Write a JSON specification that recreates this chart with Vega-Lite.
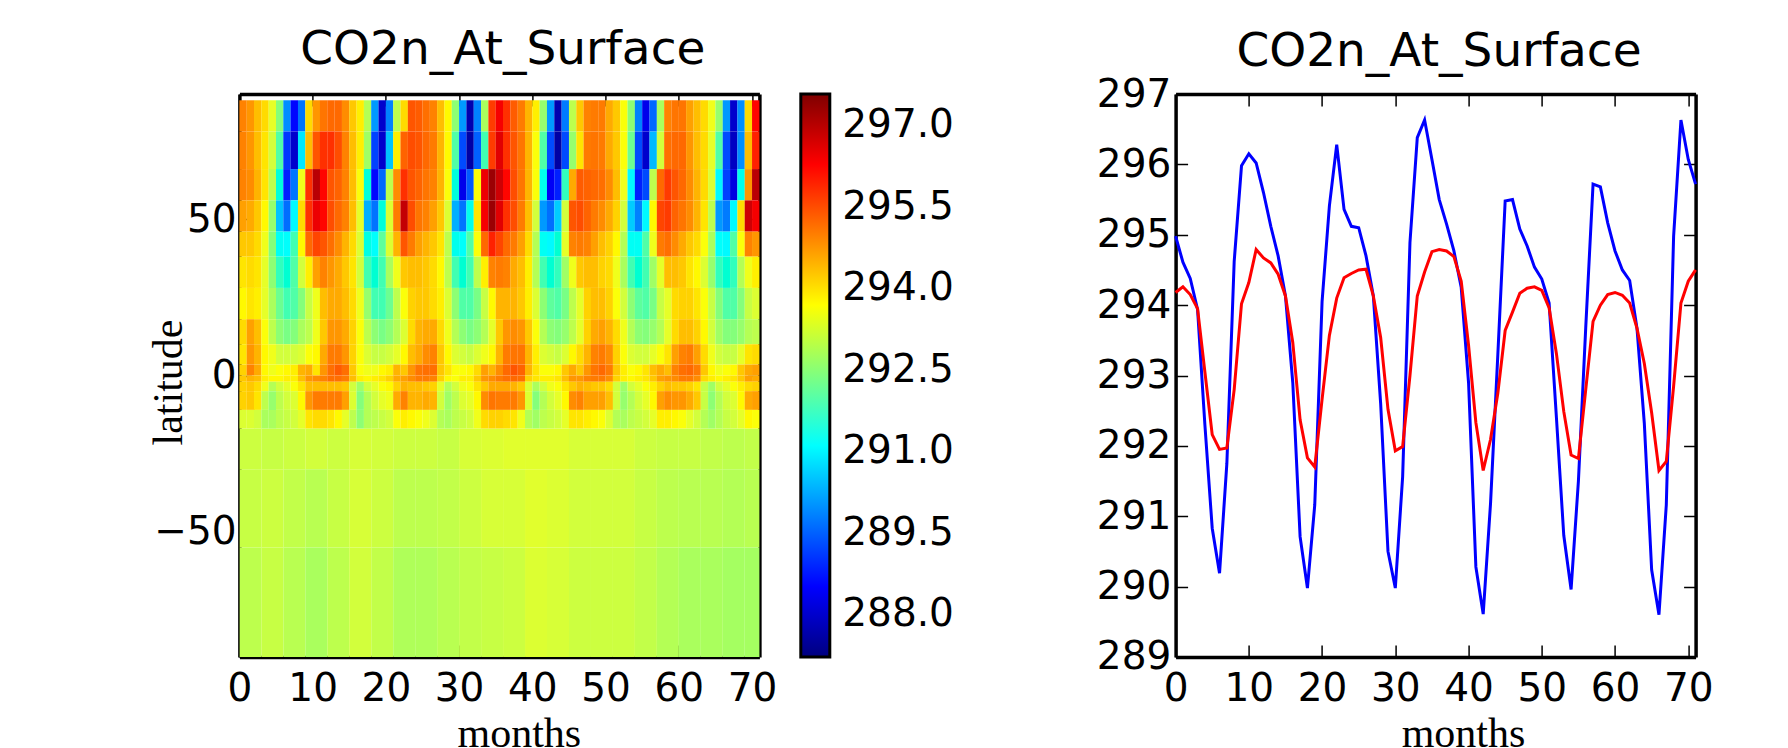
{"$schema":"https://vega.github.io/schema/vega-lite/v6.json","background":"white","padding":{"left":147.4,"top":26,"right":0,"bottom":0},"bounds":"flush","spacing":41.4,
"config":{"view":{"stroke":null},"title":{"font":"DejaVu Sans","fontSize":47,"fontWeight":"normal","color":"#000"},"axis":{"grid":false,"labelFont":"DejaVu Sans","labelFontSize":39,"labelColor":"#000","labelPadding":24.4,"labelOverlap":false,"labelFlush":false,"labelBound":false,"tickSize":-12,"tickWidth":1.5,"tickColor":"#000","domainColor":"#000","domainWidth":3.5,"titleFont":"Liberation Serif","titleFontSize":42,"titleFontWeight":"normal","titleColor":"#000","zindex":1}},
"hconcat":[
{"width":520,"height":563,"title":{"text":"CO2n_At_Surface","offset":19,"dx":3.4},
"encoding":{"x":{"field":"m","type":"quantitative","scale":{"domain":[0,71]},"axis":null},"color":{"field":"v","type":"quantitative","legend":null,"scale":{"domain":[287.2,288.4875,289.775,291.0625,292.35,293.6375,294.925,296.2125,297.5],"range":["#00007f","#0000ff","#007fff","#00ffff","#7fff7f","#ffff00","#ff7f00","#ff0000","#7f0000"]}}},
"layer":[
{"data":{"values":[{"m":0,"v":294.9},{"m":1,"v":294.7},{"m":2,"v":294.3},{"m":3,"v":294},{"m":4,"v":293.4},{"m":5,"v":292.4},{"m":6,"v":289.9},{"m":7,"v":288.5},{"m":8,"v":289.6},{"m":9,"v":294},{"m":10,"v":294.7},{"m":11,"v":295.1},{"m":12,"v":295.3},{"m":13,"v":295.3},{"m":14,"v":294.8},{"m":15,"v":294.2},{"m":16,"v":293.8},{"m":17,"v":292.9},{"m":18,"v":290},{"m":19,"v":288},{"m":20,"v":289.8},{"m":21,"v":293},{"m":22,"v":294},{"m":23,"v":295.6},{"m":24,"v":295.5},{"m":25,"v":295.2},{"m":26,"v":294.9},{"m":27,"v":294.3},{"m":28,"v":293.7},{"m":29,"v":292.5},{"m":30,"v":290},{"m":31,"v":287.7},{"m":32,"v":289.8},{"m":33,"v":292.8},{"m":34,"v":295.9},{"m":35,"v":296.3},{"m":36,"v":296},{"m":37,"v":295.5},{"m":38,"v":295},{"m":39,"v":294.4},{"m":40,"v":293.8},{"m":41,"v":292.6},{"m":42,"v":290},{"m":43,"v":287.7},{"m":44,"v":289.7},{"m":45,"v":293},{"m":46,"v":294.2},{"m":47,"v":294.9},{"m":48,"v":295},{"m":49,"v":295},{"m":50,"v":294.5},{"m":51,"v":294.2},{"m":52,"v":293.6},{"m":53,"v":292.5},{"m":54,"v":289.8},{"m":55,"v":288.3},{"m":56,"v":289.4},{"m":57,"v":292.8},{"m":58,"v":294.9},{"m":59,"v":295.1},{"m":60,"v":295.1},{"m":61,"v":294.6},{"m":62,"v":294.3},{"m":63,"v":294},{"m":64,"v":293.5},{"m":65,"v":292.6},{"m":66,"v":290},{"m":67,"v":288},{"m":68,"v":289.9},{"m":69,"v":294},{"m":70,"v":296.2}]},"mark":{"type":"rect","width":7.4,"xOffset":3.66},"encoding":{"y":{"datum":78,"type":"quantitative","scale":{"domain":[-90,90]},"axis":null},"y2":{"datum":88}}},
{"data":{"values":[{"m":0,"v":294.9},{"m":1,"v":294.7},{"m":2,"v":294.3},{"m":3,"v":293.9},{"m":4,"v":293.2},{"m":5,"v":292},{"m":6,"v":288.8},{"m":7,"v":288},{"m":8,"v":290.8},{"m":9,"v":294.3},{"m":10,"v":295.6},{"m":11,"v":296},{"m":12,"v":296},{"m":13,"v":295.7},{"m":14,"v":294.9},{"m":15,"v":294.3},{"m":16,"v":293.8},{"m":17,"v":292.7},{"m":18,"v":288.9},{"m":19,"v":288},{"m":20,"v":290.4},{"m":21,"v":293.8},{"m":22,"v":295.4},{"m":23,"v":295.7},{"m":24,"v":295.6},{"m":25,"v":295.3},{"m":26,"v":295},{"m":27,"v":294.4},{"m":28,"v":293.7},{"m":29,"v":292},{"m":30,"v":289},{"m":31,"v":287.6},{"m":32,"v":289.3},{"m":33,"v":291.9},{"m":34,"v":295.9},{"m":35,"v":296.5},{"m":36,"v":296},{"m":37,"v":295.6},{"m":38,"v":295.1},{"m":39,"v":294.4},{"m":40,"v":293.6},{"m":41,"v":292},{"m":42,"v":289},{"m":43,"v":287.6},{"m":44,"v":289},{"m":45,"v":292.6},{"m":46,"v":293.9},{"m":47,"v":295},{"m":48,"v":295.1},{"m":49,"v":295},{"m":50,"v":294.5},{"m":51,"v":294.2},{"m":52,"v":293.6},{"m":53,"v":292.2},{"m":54,"v":289},{"m":55,"v":288},{"m":56,"v":290.3},{"m":57,"v":293.2},{"m":58,"v":295.2},{"m":59,"v":295.3},{"m":60,"v":295.3},{"m":61,"v":294.7},{"m":62,"v":294.3},{"m":63,"v":294},{"m":64,"v":293.4},{"m":65,"v":292},{"m":66,"v":289},{"m":67,"v":287.9},{"m":68,"v":289.9},{"m":69,"v":294.3},{"m":70,"v":296.1}]},"mark":{"type":"rect","width":7.4,"xOffset":3.66},"encoding":{"y":{"datum":66,"type":"quantitative","scale":{"domain":[-90,90]},"axis":null},"y2":{"datum":78}}},
{"data":{"values":[{"m":0,"v":294.9},{"m":1,"v":294.8},{"m":2,"v":294.4},{"m":3,"v":293.9},{"m":4,"v":293},{"m":5,"v":291.5},{"m":6,"v":288.6},{"m":7,"v":289.6},{"m":8,"v":293.5},{"m":9,"v":296},{"m":10,"v":296.9},{"m":11,"v":296.2},{"m":12,"v":295.6},{"m":13,"v":295.4},{"m":14,"v":294.9},{"m":15,"v":294.3},{"m":16,"v":293.6},{"m":17,"v":291.5},{"m":18,"v":288.5},{"m":19,"v":289.4},{"m":20,"v":293},{"m":21,"v":294.8},{"m":22,"v":296},{"m":23,"v":295.6},{"m":24,"v":295.4},{"m":25,"v":295.1},{"m":26,"v":294.9},{"m":27,"v":294.4},{"m":28,"v":293.6},{"m":29,"v":291.5},{"m":30,"v":288.3},{"m":31,"v":289.2},{"m":32,"v":293.6},{"m":33,"v":296.4},{"m":34,"v":297.2},{"m":35,"v":296.7},{"m":36,"v":296.2},{"m":37,"v":295.7},{"m":38,"v":295.1},{"m":39,"v":294.4},{"m":40,"v":293.6},{"m":41,"v":291.3},{"m":42,"v":288.4},{"m":43,"v":288.6},{"m":44,"v":291.8},{"m":45,"v":294.5},{"m":46,"v":295.5},{"m":47,"v":295.4},{"m":48,"v":295.3},{"m":49,"v":295.2},{"m":50,"v":294.8},{"m":51,"v":294.3},{"m":52,"v":293.5},{"m":53,"v":291},{"m":54,"v":288.6},{"m":55,"v":289},{"m":56,"v":293},{"m":57,"v":295.3},{"m":58,"v":295.9},{"m":59,"v":295.6},{"m":60,"v":295.3},{"m":61,"v":294.8},{"m":62,"v":294.4},{"m":63,"v":294},{"m":64,"v":293.3},{"m":65,"v":291},{"m":66,"v":288.9},{"m":67,"v":288.2},{"m":68,"v":291.3},{"m":69,"v":294.7},{"m":70,"v":296.9}]},"mark":{"type":"rect","width":7.4,"xOffset":3.66},"encoding":{"y":{"datum":56,"type":"quantitative","scale":{"domain":[-90,90]},"axis":null},"y2":{"datum":66}}},
{"data":{"values":[{"m":0,"v":294.6},{"m":1,"v":294.5},{"m":2,"v":294.2},{"m":3,"v":293.7},{"m":4,"v":292.6},{"m":5,"v":290.4},{"m":6,"v":289.5},{"m":7,"v":291},{"m":8,"v":294},{"m":9,"v":296},{"m":10,"v":296.4},{"m":11,"v":296.2},{"m":12,"v":295.7},{"m":13,"v":295.3},{"m":14,"v":294.9},{"m":15,"v":294.3},{"m":16,"v":293.4},{"m":17,"v":290.2},{"m":18,"v":289.6},{"m":19,"v":291.5},{"m":20,"v":293.3},{"m":21,"v":295},{"m":22,"v":296.8},{"m":23,"v":295.7},{"m":24,"v":295.1},{"m":25,"v":294.9},{"m":26,"v":294.6},{"m":27,"v":294.2},{"m":28,"v":293.3},{"m":29,"v":290.2},{"m":30,"v":289.6},{"m":31,"v":291.3},{"m":32,"v":293.9},{"m":33,"v":296.3},{"m":34,"v":297.2},{"m":35,"v":296.5},{"m":36,"v":296},{"m":37,"v":295.7},{"m":38,"v":295},{"m":39,"v":294.3},{"m":40,"v":293.2},{"m":41,"v":290},{"m":42,"v":289.5},{"m":43,"v":290.5},{"m":44,"v":293.2},{"m":45,"v":295.6},{"m":46,"v":295.7},{"m":47,"v":295.4},{"m":48,"v":295},{"m":49,"v":294.8},{"m":50,"v":294.5},{"m":51,"v":294.1},{"m":52,"v":293.2},{"m":53,"v":290.5},{"m":54,"v":289.8},{"m":55,"v":291},{"m":56,"v":293.7},{"m":57,"v":295.8},{"m":58,"v":295.9},{"m":59,"v":295.4},{"m":60,"v":295.1},{"m":61,"v":294.8},{"m":62,"v":294.4},{"m":63,"v":293.9},{"m":64,"v":293},{"m":65,"v":290},{"m":66,"v":289.7},{"m":67,"v":291},{"m":68,"v":294},{"m":69,"v":296.7},{"m":70,"v":296.3}]},"mark":{"type":"rect","width":7.4,"xOffset":3.66},"encoding":{"y":{"datum":46,"type":"quantitative","scale":{"domain":[-90,90]},"axis":null},"y2":{"datum":56}}},
{"data":{"values":[{"m":0,"v":294.2},{"m":1,"v":294.2},{"m":2,"v":294},{"m":3,"v":293.5},{"m":4,"v":292.4},{"m":5,"v":291.2},{"m":6,"v":291.1},{"m":7,"v":291.9},{"m":8,"v":293.7},{"m":9,"v":295.3},{"m":10,"v":295.8},{"m":11,"v":295.6},{"m":12,"v":295.2},{"m":13,"v":294.8},{"m":14,"v":294.4},{"m":15,"v":294},{"m":16,"v":293.3},{"m":17,"v":291.4},{"m":18,"v":291.1},{"m":19,"v":292.1},{"m":20,"v":293.3},{"m":21,"v":294.4},{"m":22,"v":295.6},{"m":23,"v":295},{"m":24,"v":294.6},{"m":25,"v":294.4},{"m":26,"v":294.2},{"m":27,"v":293.9},{"m":28,"v":293},{"m":29,"v":291.3},{"m":30,"v":291.1},{"m":31,"v":292},{"m":32,"v":293.6},{"m":33,"v":295.3},{"m":34,"v":296.1},{"m":35,"v":295.8},{"m":36,"v":295.3},{"m":37,"v":295},{"m":38,"v":294.6},{"m":39,"v":294},{"m":40,"v":292.9},{"m":41,"v":291.2},{"m":42,"v":291},{"m":43,"v":291.6},{"m":44,"v":293.4},{"m":45,"v":294.9},{"m":46,"v":295},{"m":47,"v":294.9},{"m":48,"v":294.6},{"m":49,"v":294.3},{"m":50,"v":294.1},{"m":51,"v":293.7},{"m":52,"v":292.9},{"m":53,"v":291.2},{"m":54,"v":291.2},{"m":55,"v":292},{"m":56,"v":293.5},{"m":57,"v":295},{"m":58,"v":295.2},{"m":59,"v":294.8},{"m":60,"v":294.5},{"m":61,"v":294.2},{"m":62,"v":294},{"m":63,"v":293.6},{"m":64,"v":292.8},{"m":65,"v":291.1},{"m":66,"v":291},{"m":67,"v":292},{"m":68,"v":293.6},{"m":69,"v":294.9},{"m":70,"v":294.7}]},"mark":{"type":"rect","width":7.4,"xOffset":3.66},"encoding":{"y":{"datum":38,"type":"quantitative","scale":{"domain":[-90,90]},"axis":null},"y2":{"datum":46}}},
{"data":{"values":[{"m":0,"v":293.9},{"m":1,"v":294},{"m":2,"v":293.9},{"m":3,"v":293.4},{"m":4,"v":292.5},{"m":5,"v":291.8},{"m":6,"v":291.6},{"m":7,"v":292},{"m":8,"v":293.2},{"m":9,"v":293.8},{"m":10,"v":294.6},{"m":11,"v":294.9},{"m":12,"v":294.7},{"m":13,"v":294.5},{"m":14,"v":294.2},{"m":15,"v":293.9},{"m":16,"v":293.2},{"m":17,"v":291.9},{"m":18,"v":291.6},{"m":19,"v":291.9},{"m":20,"v":292.8},{"m":21,"v":293.5},{"m":22,"v":294.2},{"m":23,"v":294.3},{"m":24,"v":294.3},{"m":25,"v":294.2},{"m":26,"v":294},{"m":27,"v":293.7},{"m":28,"v":293},{"m":29,"v":291.9},{"m":30,"v":291.6},{"m":31,"v":291.9},{"m":32,"v":293},{"m":33,"v":293.8},{"m":34,"v":294.9},{"m":35,"v":295},{"m":36,"v":294.9},{"m":37,"v":294.5},{"m":38,"v":294.3},{"m":39,"v":293.8},{"m":40,"v":292.9},{"m":41,"v":291.9},{"m":42,"v":291.6},{"m":43,"v":291.8},{"m":44,"v":292.7},{"m":45,"v":293.5},{"m":46,"v":294.2},{"m":47,"v":294.3},{"m":48,"v":294.3},{"m":49,"v":294.1},{"m":50,"v":294},{"m":51,"v":293.5},{"m":52,"v":292.8},{"m":53,"v":291.9},{"m":54,"v":291.6},{"m":55,"v":291.9},{"m":56,"v":292.7},{"m":57,"v":293.4},{"m":58,"v":294.3},{"m":59,"v":294.3},{"m":60,"v":294.2},{"m":61,"v":293.9},{"m":62,"v":293.7},{"m":63,"v":293.3},{"m":64,"v":292.6},{"m":65,"v":291.8},{"m":66,"v":291.6},{"m":67,"v":291.8},{"m":68,"v":292.9},{"m":69,"v":293.5},{"m":70,"v":293.8}]},"mark":{"type":"rect","width":7.4,"xOffset":3.66},"encoding":{"y":{"datum":28,"type":"quantitative","scale":{"domain":[-90,90]},"axis":null},"y2":{"datum":38}}},
{"data":{"values":[{"m":0,"v":293.7},{"m":1,"v":293.9},{"m":2,"v":293.8},{"m":3,"v":293.4},{"m":4,"v":292.8},{"m":5,"v":292.2},{"m":6,"v":291.9},{"m":7,"v":292},{"m":8,"v":292.4},{"m":9,"v":293.1},{"m":10,"v":293.5},{"m":11,"v":294.3},{"m":12,"v":294.5},{"m":13,"v":294.5},{"m":14,"v":294.3},{"m":15,"v":294},{"m":16,"v":293.5},{"m":17,"v":292.6},{"m":18,"v":291.9},{"m":19,"v":291.9},{"m":20,"v":292.2},{"m":21,"v":293},{"m":22,"v":293.6},{"m":23,"v":294.1},{"m":24,"v":294.2},{"m":25,"v":294.2},{"m":26,"v":294},{"m":27,"v":293.8},{"m":28,"v":293.3},{"m":29,"v":292.5},{"m":30,"v":292},{"m":31,"v":292},{"m":32,"v":292.3},{"m":33,"v":293.1},{"m":34,"v":293.7},{"m":35,"v":294.4},{"m":36,"v":294.4},{"m":37,"v":294.4},{"m":38,"v":294.2},{"m":39,"v":293.8},{"m":40,"v":293.3},{"m":41,"v":292.5},{"m":42,"v":292.1},{"m":43,"v":292},{"m":44,"v":292.3},{"m":45,"v":293},{"m":46,"v":293.4},{"m":47,"v":294.1},{"m":48,"v":294.3},{"m":49,"v":294.3},{"m":50,"v":294.1},{"m":51,"v":293.6},{"m":52,"v":293.2},{"m":53,"v":292.5},{"m":54,"v":292.1},{"m":55,"v":292},{"m":56,"v":292.3},{"m":57,"v":293.1},{"m":58,"v":293.4},{"m":59,"v":294},{"m":60,"v":294.1},{"m":61,"v":294.1},{"m":62,"v":293.9},{"m":63,"v":293.6},{"m":64,"v":293.1},{"m":65,"v":292.4},{"m":66,"v":292},{"m":67,"v":292},{"m":68,"v":292.4},{"m":69,"v":293.1},{"m":70,"v":293.3}]},"mark":{"type":"rect","width":7.4,"xOffset":3.66},"encoding":{"y":{"datum":18,"type":"quantitative","scale":{"domain":[-90,90]},"axis":null},"y2":{"datum":28}}},
{"data":{"values":[{"m":0,"v":294},{"m":1,"v":294.6},{"m":2,"v":294.3},{"m":3,"v":293.6},{"m":4,"v":293},{"m":5,"v":292.5},{"m":6,"v":292.3},{"m":7,"v":292.4},{"m":8,"v":292.8},{"m":9,"v":293},{"m":10,"v":293.5},{"m":11,"v":294.2},{"m":12,"v":294.7},{"m":13,"v":294.7},{"m":14,"v":294.5},{"m":15,"v":294.1},{"m":16,"v":293.6},{"m":17,"v":293},{"m":18,"v":292.5},{"m":19,"v":292.3},{"m":20,"v":292.5},{"m":21,"v":292.9},{"m":22,"v":293.3},{"m":23,"v":294},{"m":24,"v":294.4},{"m":25,"v":294.5},{"m":26,"v":294.5},{"m":27,"v":294},{"m":28,"v":293.5},{"m":29,"v":292.9},{"m":30,"v":292.5},{"m":31,"v":292.3},{"m":32,"v":292.5},{"m":33,"v":292.9},{"m":34,"v":293.4},{"m":35,"v":294.2},{"m":36,"v":294.7},{"m":37,"v":294.8},{"m":38,"v":294.7},{"m":39,"v":294.2},{"m":40,"v":293.6},{"m":41,"v":292.9},{"m":42,"v":292.5},{"m":43,"v":292.4},{"m":44,"v":292.6},{"m":45,"v":293},{"m":46,"v":293.4},{"m":47,"v":294.1},{"m":48,"v":294.5},{"m":49,"v":294.6},{"m":50,"v":294.4},{"m":51,"v":294},{"m":52,"v":293.5},{"m":53,"v":292.9},{"m":54,"v":292.5},{"m":55,"v":292.4},{"m":56,"v":292.6},{"m":57,"v":292.9},{"m":58,"v":293.4},{"m":59,"v":294},{"m":60,"v":294.3},{"m":61,"v":294.3},{"m":62,"v":294.1},{"m":63,"v":293.7},{"m":64,"v":293.2},{"m":65,"v":292.7},{"m":66,"v":292.4},{"m":67,"v":292.4},{"m":68,"v":292.6},{"m":69,"v":292.9},{"m":70,"v":293}]},"mark":{"type":"rect","width":7.4,"xOffset":3.66},"encoding":{"y":{"datum":10,"type":"quantitative","scale":{"domain":[-90,90]},"axis":null},"y2":{"datum":18}}},
{"data":{"values":[{"m":0,"v":293.9},{"m":1,"v":294.7},{"m":2,"v":294.4},{"m":3,"v":293.7},{"m":4,"v":293.5},{"m":5,"v":293.2},{"m":6,"v":293.2},{"m":7,"v":293.2},{"m":8,"v":293.3},{"m":9,"v":293.6},{"m":10,"v":293.7},{"m":11,"v":294.5},{"m":12,"v":295},{"m":13,"v":295},{"m":14,"v":294.7},{"m":15,"v":294.1},{"m":16,"v":293.6},{"m":17,"v":293.3},{"m":18,"v":293.1},{"m":19,"v":293.1},{"m":20,"v":293.2},{"m":21,"v":293.4},{"m":22,"v":293.7},{"m":23,"v":294.3},{"m":24,"v":294.5},{"m":25,"v":294.8},{"m":26,"v":294.9},{"m":27,"v":294.2},{"m":28,"v":293.7},{"m":29,"v":293.3},{"m":30,"v":293.2},{"m":31,"v":293.1},{"m":32,"v":293.3},{"m":33,"v":293.5},{"m":34,"v":293.7},{"m":35,"v":294.4},{"m":36,"v":295},{"m":37,"v":295.1},{"m":38,"v":295.1},{"m":39,"v":294.4},{"m":40,"v":293.8},{"m":41,"v":293.3},{"m":42,"v":293.2},{"m":43,"v":293.1},{"m":44,"v":293.3},{"m":45,"v":293.7},{"m":46,"v":294},{"m":47,"v":294.4},{"m":48,"v":294.9},{"m":49,"v":295},{"m":50,"v":294.8},{"m":51,"v":294.1},{"m":52,"v":293.6},{"m":53,"v":293.3},{"m":54,"v":293.2},{"m":55,"v":293.2},{"m":56,"v":293.4},{"m":57,"v":293.6},{"m":58,"v":293.9},{"m":59,"v":294.6},{"m":60,"v":294.9},{"m":61,"v":295},{"m":62,"v":294.6},{"m":63,"v":294},{"m":64,"v":293.5},{"m":65,"v":293.2},{"m":66,"v":293.1},{"m":67,"v":293.1},{"m":68,"v":293.4},{"m":69,"v":293.9},{"m":70,"v":294}]},"mark":{"type":"rect","width":7.4,"xOffset":3.66},"encoding":{"y":{"datum":3.5,"type":"quantitative","scale":{"domain":[-90,90]},"axis":null},"y2":{"datum":10}}},
{"data":{"values":[{"m":0,"v":294.1},{"m":1,"v":294.9},{"m":2,"v":294.5},{"m":3,"v":293.7},{"m":4,"v":293.5},{"m":5,"v":293.6},{"m":6,"v":293.7},{"m":7,"v":293.8},{"m":8,"v":294.4},{"m":9,"v":294.5},{"m":10,"v":293.9},{"m":11,"v":294.7},{"m":12,"v":295.2},{"m":13,"v":295.5},{"m":14,"v":295.2},{"m":15,"v":294.2},{"m":16,"v":293.6},{"m":17,"v":293.5},{"m":18,"v":293.5},{"m":19,"v":293.7},{"m":20,"v":293.8},{"m":21,"v":294.4},{"m":22,"v":294.2},{"m":23,"v":294.7},{"m":24,"v":295.1},{"m":25,"v":295.2},{"m":26,"v":295.2},{"m":27,"v":294.2},{"m":28,"v":293.9},{"m":29,"v":293.6},{"m":30,"v":293.6},{"m":31,"v":293.7},{"m":32,"v":294},{"m":33,"v":294.6},{"m":34,"v":294.4},{"m":35,"v":294.8},{"m":36,"v":295.3},{"m":37,"v":295.6},{"m":38,"v":295.4},{"m":39,"v":294.4},{"m":40,"v":293.9},{"m":41,"v":293.6},{"m":42,"v":293.6},{"m":43,"v":293.7},{"m":44,"v":294.2},{"m":45,"v":294.5},{"m":46,"v":294.2},{"m":47,"v":294.7},{"m":48,"v":295.1},{"m":49,"v":295.3},{"m":50,"v":295},{"m":51,"v":294.2},{"m":52,"v":293.8},{"m":53,"v":293.6},{"m":54,"v":293.7},{"m":55,"v":293.9},{"m":56,"v":294.3},{"m":57,"v":294.5},{"m":58,"v":294.3},{"m":59,"v":294.9},{"m":60,"v":295.2},{"m":61,"v":295.3},{"m":62,"v":295},{"m":63,"v":294.2},{"m":64,"v":293.7},{"m":65,"v":293.5},{"m":66,"v":293.6},{"m":67,"v":293.7},{"m":68,"v":294.2},{"m":69,"v":294.5},{"m":70,"v":294.6}]},"mark":{"type":"rect","width":7.4,"xOffset":3.66},"encoding":{"y":{"datum":0,"type":"quantitative","scale":{"domain":[-90,90]},"axis":null},"y2":{"datum":3.5}}},
{"data":{"values":[{"m":0,"v":294.2},{"m":1,"v":294.4},{"m":2,"v":294.3},{"m":3,"v":293.8},{"m":4,"v":293.7},{"m":5,"v":293.7},{"m":6,"v":293.8},{"m":7,"v":293.8},{"m":8,"v":294.3},{"m":9,"v":294.7},{"m":10,"v":294.8},{"m":11,"v":294.9},{"m":12,"v":295.2},{"m":13,"v":295.2},{"m":14,"v":295},{"m":15,"v":294.3},{"m":16,"v":293.8},{"m":17,"v":293.7},{"m":18,"v":293.8},{"m":19,"v":293.9},{"m":20,"v":294.1},{"m":21,"v":294.5},{"m":22,"v":294.6},{"m":23,"v":294.8},{"m":24,"v":295},{"m":25,"v":295},{"m":26,"v":294.9},{"m":27,"v":294.1},{"m":28,"v":293.7},{"m":29,"v":293.6},{"m":30,"v":293.8},{"m":31,"v":293.8},{"m":32,"v":294.2},{"m":33,"v":294.7},{"m":34,"v":294.8},{"m":35,"v":295},{"m":36,"v":295.2},{"m":37,"v":295.3},{"m":38,"v":295.2},{"m":39,"v":294.1},{"m":40,"v":293.9},{"m":41,"v":293.8},{"m":42,"v":293.8},{"m":43,"v":293.9},{"m":44,"v":294.3},{"m":45,"v":294.7},{"m":46,"v":294.7},{"m":47,"v":294.9},{"m":48,"v":295},{"m":49,"v":295},{"m":50,"v":294.8},{"m":51,"v":294.1},{"m":52,"v":293.8},{"m":53,"v":293.7},{"m":54,"v":293.8},{"m":55,"v":293.9},{"m":56,"v":294.2},{"m":57,"v":294.6},{"m":58,"v":294.7},{"m":59,"v":294.8},{"m":60,"v":295},{"m":61,"v":295},{"m":62,"v":294.8},{"m":63,"v":294},{"m":64,"v":293.8},{"m":65,"v":293.7},{"m":66,"v":293.8},{"m":67,"v":293.9},{"m":68,"v":294.2},{"m":69,"v":294.6},{"m":70,"v":294.5}]},"mark":{"type":"rect","width":7.4,"xOffset":3.66},"encoding":{"y":{"datum":-2,"type":"quantitative","scale":{"domain":[-90,90]},"axis":null},"y2":{"datum":0}}},
{"data":{"values":[{"m":0,"v":294.1},{"m":1,"v":294.2},{"m":2,"v":294},{"m":3,"v":293.5},{"m":4,"v":292.9},{"m":5,"v":293.2},{"m":6,"v":293.4},{"m":7,"v":293.6},{"m":8,"v":293.9},{"m":9,"v":294.3},{"m":10,"v":294.3},{"m":11,"v":294.3},{"m":12,"v":294.3},{"m":13,"v":294.3},{"m":14,"v":294.2},{"m":15,"v":293.2},{"m":16,"v":292.7},{"m":17,"v":293.2},{"m":18,"v":293.4},{"m":19,"v":293.6},{"m":20,"v":293.7},{"m":21,"v":294.1},{"m":22,"v":294.4},{"m":23,"v":294.3},{"m":24,"v":294.3},{"m":25,"v":294.2},{"m":26,"v":294.1},{"m":27,"v":293.4},{"m":28,"v":292.9},{"m":29,"v":293.2},{"m":30,"v":293.5},{"m":31,"v":293.6},{"m":32,"v":293.9},{"m":33,"v":294.2},{"m":34,"v":294.5},{"m":35,"v":294.5},{"m":36,"v":294.5},{"m":37,"v":294.4},{"m":38,"v":294.2},{"m":39,"v":293.3},{"m":40,"v":292.8},{"m":41,"v":293.2},{"m":42,"v":293.5},{"m":43,"v":293.6},{"m":44,"v":293.9},{"m":45,"v":294.2},{"m":46,"v":294.4},{"m":47,"v":294.3},{"m":48,"v":294.2},{"m":49,"v":294.2},{"m":50,"v":294},{"m":51,"v":293.2},{"m":52,"v":292.7},{"m":53,"v":293.2},{"m":54,"v":293.4},{"m":55,"v":293.6},{"m":56,"v":293.8},{"m":57,"v":294.1},{"m":58,"v":294.3},{"m":59,"v":294.2},{"m":60,"v":294.2},{"m":61,"v":294.1},{"m":62,"v":293.9},{"m":63,"v":293.1},{"m":64,"v":292.7},{"m":65,"v":293.2},{"m":66,"v":293.4},{"m":67,"v":293.6},{"m":68,"v":293.8},{"m":69,"v":294},{"m":70,"v":294.1}]},"mark":{"type":"rect","width":7.4,"xOffset":3.66},"encoding":{"y":{"datum":-5,"type":"quantitative","scale":{"domain":[-90,90]},"axis":null},"y2":{"datum":-2}}},
{"data":{"values":[{"m":0,"v":294.1},{"m":1,"v":294.2},{"m":2,"v":293.9},{"m":3,"v":293},{"m":4,"v":292.6},{"m":5,"v":293},{"m":6,"v":293.2},{"m":7,"v":293.3},{"m":8,"v":293.7},{"m":9,"v":294.7},{"m":10,"v":295},{"m":11,"v":295},{"m":12,"v":295},{"m":13,"v":295},{"m":14,"v":294.6},{"m":15,"v":293.3},{"m":16,"v":292.4},{"m":17,"v":292.9},{"m":18,"v":293.2},{"m":19,"v":293.4},{"m":20,"v":293.5},{"m":21,"v":294.5},{"m":22,"v":294.9},{"m":23,"v":294.4},{"m":24,"v":294.4},{"m":25,"v":294.5},{"m":26,"v":294.4},{"m":27,"v":293.2},{"m":28,"v":292.7},{"m":29,"v":293},{"m":30,"v":293.3},{"m":31,"v":293.4},{"m":32,"v":293.7},{"m":33,"v":294.8},{"m":34,"v":295.1},{"m":35,"v":295},{"m":36,"v":295},{"m":37,"v":295},{"m":38,"v":294.7},{"m":39,"v":293.3},{"m":40,"v":292.4},{"m":41,"v":292.9},{"m":42,"v":293.2},{"m":43,"v":293.4},{"m":44,"v":293.7},{"m":45,"v":294.8},{"m":46,"v":294.9},{"m":47,"v":294.6},{"m":48,"v":294.6},{"m":49,"v":294.6},{"m":50,"v":294.3},{"m":51,"v":293.2},{"m":52,"v":292.6},{"m":53,"v":292.9},{"m":54,"v":293.2},{"m":55,"v":293.4},{"m":56,"v":293.7},{"m":57,"v":294.6},{"m":58,"v":294.8},{"m":59,"v":294.7},{"m":60,"v":294.7},{"m":61,"v":294.5},{"m":62,"v":294.2},{"m":63,"v":293.1},{"m":64,"v":292.5},{"m":65,"v":292.9},{"m":66,"v":293.2},{"m":67,"v":293.3},{"m":68,"v":293.7},{"m":69,"v":294.5},{"m":70,"v":294.6}]},"mark":{"type":"rect","width":7.4,"xOffset":3.66},"encoding":{"y":{"datum":-11,"type":"quantitative","scale":{"domain":[-90,90]},"axis":null},"y2":{"datum":-5}}},
{"data":{"values":[{"m":0,"v":293.3},{"m":1,"v":293.3},{"m":2,"v":293.2},{"m":3,"v":292.8},{"m":4,"v":292.8},{"m":5,"v":293},{"m":6,"v":293.1},{"m":7,"v":293.2},{"m":8,"v":293.4},{"m":9,"v":293.9},{"m":10,"v":294},{"m":11,"v":294},{"m":12,"v":293.9},{"m":13,"v":293.7},{"m":14,"v":293.4},{"m":15,"v":293},{"m":16,"v":292.5},{"m":17,"v":292.9},{"m":18,"v":293},{"m":19,"v":293.1},{"m":20,"v":293.2},{"m":21,"v":293.6},{"m":22,"v":293.8},{"m":23,"v":293.7},{"m":24,"v":293.6},{"m":25,"v":293.5},{"m":26,"v":293.3},{"m":27,"v":292.9},{"m":28,"v":292.8},{"m":29,"v":293},{"m":30,"v":293.1},{"m":31,"v":293.2},{"m":32,"v":293.5},{"m":33,"v":294},{"m":34,"v":294.1},{"m":35,"v":294.1},{"m":36,"v":294},{"m":37,"v":293.9},{"m":38,"v":293.5},{"m":39,"v":292.9},{"m":40,"v":292.7},{"m":41,"v":293},{"m":42,"v":293.1},{"m":43,"v":293.2},{"m":44,"v":293.4},{"m":45,"v":293.9},{"m":46,"v":293.9},{"m":47,"v":293.8},{"m":48,"v":293.7},{"m":49,"v":293.6},{"m":50,"v":293.3},{"m":51,"v":292.9},{"m":52,"v":292.8},{"m":53,"v":293},{"m":54,"v":293.1},{"m":55,"v":293.2},{"m":56,"v":293.4},{"m":57,"v":293.8},{"m":58,"v":293.8},{"m":59,"v":293.7},{"m":60,"v":293.6},{"m":61,"v":293.4},{"m":62,"v":293.2},{"m":63,"v":292.9},{"m":64,"v":292.7},{"m":65,"v":292.9},{"m":66,"v":293.1},{"m":67,"v":293.2},{"m":68,"v":293.4},{"m":69,"v":293.7},{"m":70,"v":293.6}]},"mark":{"type":"rect","width":7.4,"xOffset":3.66},"encoding":{"y":{"datum":-17,"type":"quantitative","scale":{"domain":[-90,90]},"axis":null},"y2":{"datum":-11}}},
{"data":{"values":[{"m":0,"v":293.15},{"m":3,"v":293.1},{"m":6,"v":293.15},{"m":9,"v":293.2},{"m":12,"v":293.15},{"m":15,"v":293.25},{"m":18,"v":293.2},{"m":21,"v":293.15},{"m":24,"v":293.15},{"m":27,"v":293.1},{"m":30,"v":293.25},{"m":33,"v":293.3},{"m":36,"v":293.35},{"m":39,"v":293.35},{"m":42,"v":293.35},{"m":45,"v":293.25},{"m":48,"v":293.25},{"m":51,"v":293.25},{"m":54,"v":293.15},{"m":57,"v":293.1},{"m":60,"v":293.1},{"m":63,"v":293.05},{"m":66,"v":293},{"m":69,"v":293.05}]},"mark":{"type":"rect","width":22,"xOffset":11,"clip":true},"encoding":{"y":{"datum":-30,"type":"quantitative","scale":{"domain":[-90,90]},"axis":null},"y2":{"datum":-17}}},
{"data":{"values":[{"m":0,"v":293.1},{"m":3,"v":293.15},{"m":6,"v":293.05},{"m":9,"v":292.95},{"m":12,"v":293.1},{"m":15,"v":293.25},{"m":18,"v":293.15},{"m":21,"v":293},{"m":24,"v":293},{"m":27,"v":293.05},{"m":30,"v":293.15},{"m":33,"v":293.25},{"m":36,"v":293.25},{"m":39,"v":293.35},{"m":42,"v":293.3},{"m":45,"v":293.2},{"m":48,"v":293.2},{"m":51,"v":293.2},{"m":54,"v":293.1},{"m":57,"v":293},{"m":60,"v":292.95},{"m":63,"v":292.95},{"m":66,"v":292.9},{"m":69,"v":292.95}]},"mark":{"type":"rect","width":22,"xOffset":11,"clip":true},"encoding":{"y":{"datum":-55,"type":"quantitative","scale":{"domain":[-90,90]},"axis":null},"y2":{"datum":-30}}},
{"data":{"values":[{"m":0,"v":293},{"m":3,"v":293.1},{"m":6,"v":292.95},{"m":9,"v":292.8},{"m":12,"v":293},{"m":15,"v":293.2},{"m":18,"v":293.05},{"m":21,"v":292.85},{"m":24,"v":292.85},{"m":27,"v":292.95},{"m":30,"v":293.05},{"m":33,"v":293.1},{"m":36,"v":293.15},{"m":39,"v":293.3},{"m":42,"v":293.25},{"m":45,"v":293.15},{"m":48,"v":293.15},{"m":51,"v":293.15},{"m":54,"v":293.05},{"m":57,"v":292.9},{"m":60,"v":292.8},{"m":63,"v":292.8},{"m":66,"v":292.75},{"m":69,"v":292.75}]},"mark":{"type":"rect","width":22,"xOffset":11,"clip":true},"encoding":{"y":{"datum":-90,"type":"quantitative","scale":{"domain":[-90,90]},"axis":null},"y2":{"datum":-55}}},
{"data":{"values":[{"m":0,"v":293.1}]},"mark":{"type":"point","opacity":0},"encoding":{"y":{"datum":0,"type":"quantitative","scale":{"domain":[-90,90]},"axis":{"orient":"left","values":[-50,0,50],"format":"d","title":"latitude","titleX":-48.8,"titleY":288,"labelPadding":15.3}},"x":{"field":"m","type":"quantitative","scale":{"domain":[0,71]},"axis":{"orient":"bottom","values":[0,10,20,30,40,50,60,70],"format":"d","title":"months","titlePadding":5,"titleX":279.4}}}},
{"data":{"values":[{"m":0,"v":293.1}]},"mark":{"type":"point","opacity":0},"encoding":{"y":{"datum":0,"type":"quantitative","scale":{"domain":[-90,90]},"axis":{"orient":"right","values":[-50,0,50],"labels":false,"title":null}},"x":{"field":"m","type":"quantitative","scale":{"domain":[0,71]},"axis":{"orient":"top","values":[0,10,20,30,40,50,60,70],"labels":false,"title":null}}}}
],"resolve":{"axis":{"x":"independent","y":"independent"}}},
{"width":29,"height":563,"data":{"values":[{"lo":287.2,"hi":297.57}]},"mark":{"type":"rect","stroke":"#000","strokeWidth":3,"color":{"gradient":"linear","x1":0,"y1":1,"x2":0,"y2":0,"stops":[{"offset":0,"color":"#00007f"},{"offset":0.125,"color":"#0000ff"},{"offset":0.25,"color":"#007fff"},{"offset":0.375,"color":"#00ffff"},{"offset":0.5,"color":"#7fff7f"},{"offset":0.625,"color":"#ffff00"},{"offset":0.75,"color":"#ff7f00"},{"offset":0.875,"color":"#ff0000"},{"offset":1,"color":"#7f0000"}]}},"encoding":{"y":{"field":"lo","type":"quantitative","scale":{"domain":[287.2,297.57]},"axis":{"orient":"right","values":[288,289.5,291,292.5,294,295.5,297],"format":".1f","title":null,"domain":false,"labelPadding":24}},"y2":{"field":"hi"}}},
{"width":262.5,"height":563,"data":{"values":[{"m":0}]},"mark":{"type":"point","opacity":0},"encoding":{}},
{"width":520,"height":563,"title":{"text":"CO2n_At_Surface","offset":-1,"dx":3.4},"data":{"values":[{"m":0,"b":294.98,"r":294.18},{"m":1,"b":294.61,"r":294.26},{"m":2,"b":294.38,"r":294.15},{"m":3,"b":293.94,"r":293.95},{"m":4,"b":292.3,"r":293.05},{"m":5,"b":290.83,"r":292.16},{"m":6,"b":290.19,"r":291.95},{"m":7,"b":291.75,"r":291.97},{"m":8,"b":294.62,"r":292.8},{"m":9,"b":295.98,"r":294.02},{"m":10,"b":296.15,"r":294.32},{"m":11,"b":296.02,"r":294.79},{"m":12,"b":295.6,"r":294.67},{"m":13,"b":295.12,"r":294.6},{"m":14,"b":294.7,"r":294.44},{"m":15,"b":294.13,"r":294.13},{"m":16,"b":292.9,"r":293.47},{"m":17,"b":290.71,"r":292.37},{"m":18,"b":289.98,"r":291.83},{"m":19,"b":291.16,"r":291.7},{"m":20,"b":294.05,"r":292.66},{"m":21,"b":295.41,"r":293.57},{"m":22,"b":296.28,"r":294.1},{"m":23,"b":295.36,"r":294.39},{"m":24,"b":295.12,"r":294.45},{"m":25,"b":295.1,"r":294.5},{"m":26,"b":294.7,"r":294.51},{"m":27,"b":294.13,"r":294.13},{"m":28,"b":292.6,"r":293.54},{"m":29,"b":290.5,"r":292.52},{"m":30,"b":289.98,"r":291.93},{"m":31,"b":291.56,"r":291.99},{"m":32,"b":294.89,"r":293.0},{"m":33,"b":296.38,"r":294.13},{"m":34,"b":296.63,"r":294.47},{"m":35,"b":296.07,"r":294.76},{"m":36,"b":295.5,"r":294.79},{"m":37,"b":295.15,"r":294.77},{"m":38,"b":294.77,"r":294.69},{"m":39,"b":294.25,"r":294.34},{"m":40,"b":292.9,"r":293.43},{"m":41,"b":290.28,"r":292.33},{"m":42,"b":289.61,"r":291.65},{"m":43,"b":291.18,"r":292.09},{"m":44,"b":293.3,"r":292.75},{"m":45,"b":295.48,"r":293.64},{"m":46,"b":295.5,"r":293.9},{"m":47,"b":295.08,"r":294.17},{"m":48,"b":294.84,"r":294.24},{"m":49,"b":294.54,"r":294.26},{"m":50,"b":294.37,"r":294.21},{"m":51,"b":294.03,"r":293.96},{"m":52,"b":292.4,"r":293.31},{"m":53,"b":290.73,"r":292.49},{"m":54,"b":289.96,"r":291.87},{"m":55,"b":291.5,"r":291.82},{"m":56,"b":293.68,"r":292.8},{"m":57,"b":295.72,"r":293.77},{"m":58,"b":295.68,"r":294.0},{"m":59,"b":295.17,"r":294.15},{"m":60,"b":294.77,"r":294.18},{"m":61,"b":294.5,"r":294.14},{"m":62,"b":294.35,"r":294.03},{"m":63,"b":293.67,"r":293.67},{"m":64,"b":292.32,"r":293.17},{"m":65,"b":290.24,"r":292.47},{"m":66,"b":289.6,"r":291.65},{"m":67,"b":291.16,"r":291.78},{"m":68,"b":294.98,"r":292.85},{"m":69,"b":296.63,"r":294.03},{"m":70,"b":296.07,"r":294.34},{"m":71,"b":295.72,"r":294.5}]},
"layer":[
{"mark":{"type":"line","color":"#0000ff","strokeWidth":3},"encoding":{"x":{"field":"m","type":"quantitative","scale":{"domain":[0,71]},"axis":{"orient":"bottom","values":[0,10,20,30,40,50,60,70],"format":"d","title":"months","titlePadding":5,"titleX":287.4}},"y":{"field":"b","type":"quantitative","scale":{"domain":[289,297]},"axis":{"orient":"left","values":[289,290,291,292,293,294,295,296,297],"format":"d","title":null,"labelPadding":16.8}}}},
{"mark":{"type":"line","color":"#ff0000","strokeWidth":3},"encoding":{"x":{"field":"m","type":"quantitative","scale":{"domain":[0,71]},"axis":{"orient":"top","values":[0,10,20,30,40,50,60,70],"labels":false,"title":null}},"y":{"field":"r","type":"quantitative","scale":{"domain":[289,297]},"axis":{"orient":"right","values":[289,290,291,292,293,294,295,296,297],"labels":false,"title":null}}}}
],"resolve":{"axis":{"x":"independent","y":"independent"}}}
]}
